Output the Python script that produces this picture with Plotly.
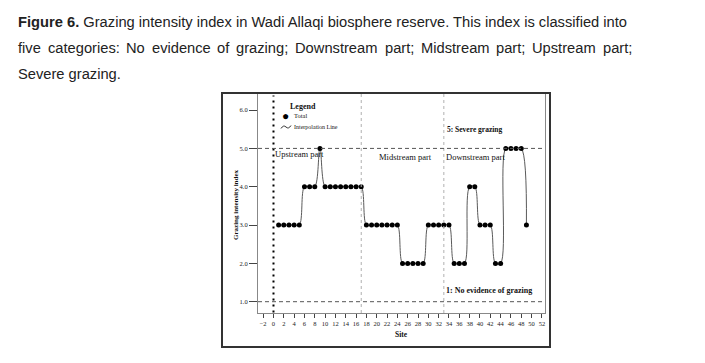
import plotly.graph_objects as go

# ---- data ----
sites = list(range(1, 50))
values = [3, 3, 3, 3, 3,
          4, 4, 4,
          5,
          4, 4, 4, 4, 4, 4, 4, 4,
          3, 3, 3, 3, 3, 3, 3,
          2, 2, 2, 2, 2,
          3, 3, 3, 3, 3,
          2, 2, 2,
          4, 4,
          3, 3, 3,
          2, 2,
          5, 5, 5, 5,
          3]
x_ticks = list(range(-2, 53, 2))
y_ticks = [1, 2, 3, 4, 5, 6]
y_ticktext = ["1.0", "2.0", "3.0", "4.0", "5.0", "6.0"]
part_dividers = [17, 33]
class_levels = [1, 5]

caption_line1 = "<b>Figure 6.</b> Grazing intensity index in Wadi Allaqi biosphere reserve. This index is classified into"
caption_line2_words = ["five", "categories:", "No", "evidence", "of", "grazing;", "Downstream",
                       "part;", "Midstream", "part;", "Upstream", "part;"]
caption_line3 = "Severe grazing."

W, H = 705, 363
L, R, T, B = 258, 545, 94, 313

def px(xp):
    return (xp - L) / (R - L)

def py(yp):
    return (B - yp) / (B - T)

SERIF = "Liberation Serif, Times New Roman, serif"
CAP = "Liberation Sans, Arial, sans-serif"
CAPSIZE = 14.7

# Arial-compatible advance widths (per 1000 em) used to justify caption line 2
ARIAL = {c: 556 for c in "abdeghnopqu"}
ARIAL.update({"c": 500, "f": 278, "i": 222, "j": 222, "k": 500, "l": 222, "m": 833,
              "r": 333, "s": 500, "t": 278, "v": 500, "w": 722, "x": 500, "y": 500,
              "z": 500, "D": 722, "M": 833, "N": 722, "U": 722, "S": 667,
              ":": 278, ";": 278, ".": 278, " ": 278})

def text_w(s, size):
    return sum(ARIAL.get(ch, 556) for ch in s) * size / 1000.0

fig = go.Figure()
fig.add_trace(go.Scatter(
    x=sites, y=values, mode="lines+markers",
    line=dict(color="#5a5a5a", width=1, shape="spline", smoothing=1.0),
    marker=dict(color="black", size=5),
    showlegend=False, hoverinfo="skip"))

shapes = []
# vertical dotted at x=0
shapes.append(dict(type="line", xref="x", yref="y", x0=0, x1=0, y0=0.72, y1=6.38,
                   line=dict(color="black", width=2, dash="2px,4px")))
for d in part_dividers:
    shapes.append(dict(type="line", xref="x", yref="paper", x0=d, x1=d, y0=0, y1=1,
                       line=dict(color="#b0b0b0", width=1, dash="3px,3px")))
for lv in class_levels:
    shapes.append(dict(type="line", xref="paper", yref="y", x0=0, x1=1, y0=lv, y1=lv,
                       line=dict(color="#555555", width=1, dash="4px,3px")))
# outer frame
shapes.append(dict(type="rect", xref="paper", yref="paper",
                   x0=px(222), x1=px(550), y0=py(347), y1=py(93),
                   line=dict(color="#333333", width=2)))
# legend wavy line sample
wx0, wx1, wy = 281, 291, 127
shapes.append(dict(type="path", xref="paper", yref="paper",
                   path=f"M {px(wx0)} {py(wy+1.5)} Q {px(wx0+2.5)} {py(wy-2.5)} {px((wx0+wx1)/2)} {py(wy)} "
                        f"T {px(wx1)} {py(wy-1.5)}",
                   line=dict(color="#333", width=1)))

ann = []
def A(text, x, y, size, xanchor="left", bold=False, xref="x", yref="y", font=SERIF, color="#111", angle=0):
    if bold:
        text = "<b>" + text + "</b>"
    ann.append(dict(text=text, x=x, y=y, xref=xref, yref=yref, showarrow=False,
                    xanchor=xanchor, yanchor="middle", textangle=angle, borderpad=0,
                    font=dict(family=font, size=size, color=color)))

A("Upstream part", 0.1, 4.85, 8.5)
A("Midstream part", 20.2, 4.78, 8.5)
A("Downstream part", 33.2, 4.78, 8.5)
A("5: Severe grazing", 33.5, 5.5, 7.5, bold=True)
A("1: No evidence of grazing", 33.3, 1.3, 8, bold=True)
A("Legend", 5.7, 6.1, 8, xanchor="center", bold=True)
A("●", 2.4, 5.84, 12, xanchor="center", color="black")
A("Total", 3.7, 5.86, 6.5)
A("Interpolation Line", 3.7, 5.57, 6)
A("Grazing intensity index", px(236), py(205), 7, xanchor="center", bold=True,
  xref="paper", yref="paper", angle=-90)
A("Site", px(401), py(334), 7.5, xanchor="center", bold=True, xref="paper", yref="paper")

# caption
LEFT_PX, RIGHT_PX = 17, 631
A(caption_line1, px(LEFT_PX), py(22), CAPSIZE, xref="paper", yref="paper", font=CAP, color="#222")
widths = [text_w(w, CAPSIZE) for w in caption_line2_words]
gap = (RIGHT_PX - LEFT_PX - sum(widths)) / (len(caption_line2_words) - 1)
xcur = LEFT_PX
for w, wd in zip(caption_line2_words, widths):
    A(w, px(xcur), py(48), CAPSIZE, xref="paper", yref="paper", font=CAP, color="#222")
    xcur += wd + gap
A(caption_line3, px(LEFT_PX), py(74), CAPSIZE, xref="paper", yref="paper", font=CAP, color="#222")

fig.update_layout(
    width=W, height=H, margin=dict(l=L, r=W - R, t=T, b=H - B),
    paper_bgcolor="white", plot_bgcolor="white",
    shapes=shapes, annotations=ann, showlegend=False,
    xaxis=dict(range=[-3, 52.6], tickvals=x_ticks, ticks="outside", ticklen=4,
               tickcolor="#444", showline=True, linecolor="#888", linewidth=1,
               mirror=True, showgrid=False, zeroline=False,
               tickfont=dict(family=SERIF, size=6.5, color="#222")),
    yaxis=dict(range=[0.705, 6.42], tickvals=y_ticks, ticktext=y_ticktext,
               ticks="outside", ticklen=8, tickcolor="#444", showline=True,
               linecolor="#888", linewidth=1, mirror=True, showgrid=False,
               zeroline=False, tickfont=dict(family=SERIF, size=6.5, color="#222")),
)
fig.write_html("out.html", config={"displayModeBar": False},
               post_script="document.body.style.margin='0';")
